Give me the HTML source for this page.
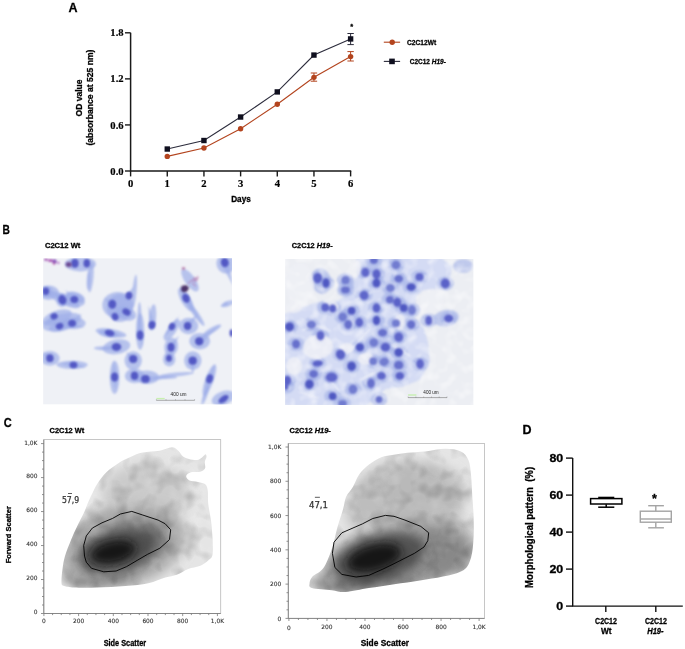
<!DOCTYPE html>
<html><head><meta charset="utf-8"><title>Figure</title>
<style>html,body{margin:0;padding:0;background:#fff;} svg{display:block;filter:blur(0.35px);}</style></head>
<body><svg width="685" height="649" viewBox="0 0 685 649">
<rect width="685" height="649" fill="#fff"/>
<text x="68.6" y="12.4" font-family="'Liberation Sans', Arial, sans-serif" font-weight="bold" stroke="#000" stroke-width="0.28" font-size="12.5">A</text>
<path d="M130.6 32.8 V171.0 H351.22" fill="none" stroke="#1a1a1a" stroke-width="1.5"/>
<line x1="125" y1="171.00" x2="130.6" y2="171.00" stroke="#1a1a1a" stroke-width="1.4"/>
<text x="123.6" y="174.60" text-anchor="end" font-family="'Liberation Serif', 'Times New Roman', serif" font-weight="bold" font-size="10.6" stroke="#000" stroke-width="0.2">0.0</text>
<line x1="125" y1="124.93" x2="130.6" y2="124.93" stroke="#1a1a1a" stroke-width="1.4"/>
<text x="123.6" y="128.53" text-anchor="end" font-family="'Liberation Serif', 'Times New Roman', serif" font-weight="bold" font-size="10.6" stroke="#000" stroke-width="0.2">0.6</text>
<line x1="125" y1="78.87" x2="130.6" y2="78.87" stroke="#1a1a1a" stroke-width="1.4"/>
<text x="123.6" y="82.47" text-anchor="end" font-family="'Liberation Serif', 'Times New Roman', serif" font-weight="bold" font-size="10.6" stroke="#000" stroke-width="0.2">1.2</text>
<line x1="125" y1="32.80" x2="130.6" y2="32.80" stroke="#1a1a1a" stroke-width="1.4"/>
<text x="123.6" y="36.40" text-anchor="end" font-family="'Liberation Serif', 'Times New Roman', serif" font-weight="bold" font-size="10.6" stroke="#000" stroke-width="0.2">1.8</text>
<line x1="130.60" y1="171.0" x2="130.60" y2="176.4" stroke="#1a1a1a" stroke-width="1.4"/>
<text x="130.60" y="187.3" text-anchor="middle" font-family="'Liberation Serif', 'Times New Roman', serif" font-weight="bold" font-size="10.6" stroke="#000" stroke-width="0.2">0</text>
<line x1="167.27" y1="171.0" x2="167.27" y2="176.4" stroke="#1a1a1a" stroke-width="1.4"/>
<text x="167.27" y="187.3" text-anchor="middle" font-family="'Liberation Serif', 'Times New Roman', serif" font-weight="bold" font-size="10.6" stroke="#000" stroke-width="0.2">1</text>
<line x1="203.94" y1="171.0" x2="203.94" y2="176.4" stroke="#1a1a1a" stroke-width="1.4"/>
<text x="203.94" y="187.3" text-anchor="middle" font-family="'Liberation Serif', 'Times New Roman', serif" font-weight="bold" font-size="10.6" stroke="#000" stroke-width="0.2">2</text>
<line x1="240.61" y1="171.0" x2="240.61" y2="176.4" stroke="#1a1a1a" stroke-width="1.4"/>
<text x="240.61" y="187.3" text-anchor="middle" font-family="'Liberation Serif', 'Times New Roman', serif" font-weight="bold" font-size="10.6" stroke="#000" stroke-width="0.2">3</text>
<line x1="277.28" y1="171.0" x2="277.28" y2="176.4" stroke="#1a1a1a" stroke-width="1.4"/>
<text x="277.28" y="187.3" text-anchor="middle" font-family="'Liberation Serif', 'Times New Roman', serif" font-weight="bold" font-size="10.6" stroke="#000" stroke-width="0.2">4</text>
<line x1="313.95" y1="171.0" x2="313.95" y2="176.4" stroke="#1a1a1a" stroke-width="1.4"/>
<text x="313.95" y="187.3" text-anchor="middle" font-family="'Liberation Serif', 'Times New Roman', serif" font-weight="bold" font-size="10.6" stroke="#000" stroke-width="0.2">5</text>
<line x1="350.62" y1="171.0" x2="350.62" y2="176.4" stroke="#1a1a1a" stroke-width="1.4"/>
<text x="350.62" y="187.3" text-anchor="middle" font-family="'Liberation Serif', 'Times New Roman', serif" font-weight="bold" font-size="10.6" stroke="#000" stroke-width="0.2">6</text>
<text x="241" y="202" text-anchor="middle" font-family="'Liberation Sans', Arial, sans-serif" font-weight="bold" stroke="#000" stroke-width="0.28" font-size="8.2">Days</text>
<text transform="translate(81.6 98) rotate(-90)" text-anchor="middle" font-family="'Liberation Sans', Arial, sans-serif" font-weight="bold" stroke="#000" stroke-width="0.28" font-size="8.4" textLength="37" lengthAdjust="spacingAndGlyphs">OD value</text>
<text transform="translate(93.2 97.6) rotate(-90)" text-anchor="middle" font-family="'Liberation Sans', Arial, sans-serif" font-weight="bold" stroke="#000" stroke-width="0.28" font-size="8.4" textLength="96" lengthAdjust="spacingAndGlyphs">(absorbance at 525 nm)</text>
<polyline points="167.27,156.41 203.94,147.97 240.61,128.77 277.28,104.20 313.95,77.33 350.62,56.60" fill="none" stroke="#b3441e" stroke-width="1.1"/>
<polyline points="167.27,149.04 203.94,140.52 240.61,117.03 277.28,91.92 313.95,55.07 350.62,38.94" fill="none" stroke="#2c2c3c" stroke-width="1.1"/>
<path d="M350.62 33.50 V44.60 M347.42 33.50 H353.82 M347.42 44.60 H353.82" stroke="#2c2c3c" stroke-width="1" fill="none"/>
<path d="M350.62 51.60 V61.00 M347.42 51.60 H353.82 M347.42 61.00 H353.82" stroke="#b3441e" stroke-width="1" fill="none"/>
<path d="M313.95 73.00 V81.20 M310.75 73.00 H317.15 M310.75 81.20 H317.15" stroke="#b3441e" stroke-width="1" fill="none"/>
<circle cx="167.27" cy="156.41" r="2.7" fill="#b3441e"/>
<circle cx="203.94" cy="147.97" r="2.7" fill="#b3441e"/>
<circle cx="240.61" cy="128.77" r="2.7" fill="#b3441e"/>
<circle cx="277.28" cy="104.20" r="2.7" fill="#b3441e"/>
<circle cx="313.95" cy="77.33" r="2.7" fill="#b3441e"/>
<circle cx="350.62" cy="56.60" r="2.7" fill="#b3441e"/>
<rect x="164.57" y="146.34" width="5.4" height="5.4" fill="#10101f"/>
<rect x="201.24" y="137.82" width="5.4" height="5.4" fill="#10101f"/>
<rect x="237.91" y="114.33" width="5.4" height="5.4" fill="#10101f"/>
<rect x="274.58" y="89.22" width="5.4" height="5.4" fill="#10101f"/>
<rect x="311.25" y="52.37" width="5.4" height="5.4" fill="#10101f"/>
<rect x="347.92" y="36.24" width="5.4" height="5.4" fill="#10101f"/>
<text x="351.7" y="29.2" text-anchor="middle" font-family="'Liberation Sans', Arial, sans-serif" font-weight="bold" stroke="#000" stroke-width="0.28" font-size="7.5">*</text>
<line x1="383.8" y1="42.2" x2="400.1" y2="42.2" stroke="#b3441e" stroke-width="1.1"/>
<circle cx="392.2" cy="42.2" r="2.7" fill="#b3441e"/>
<text x="407.1" y="44.8" font-family="'Liberation Sans', Arial, sans-serif" font-weight="bold" stroke="#000" stroke-width="0.28" font-size="7" textLength="29" lengthAdjust="spacingAndGlyphs">C2C12Wt</text>
<line x1="383.8" y1="61.4" x2="400.1" y2="61.4" stroke="#2c2c3c" stroke-width="1.1"/>
<rect x="389.2" y="58.6" width="5.6" height="5.6" fill="#10101f"/>
<text x="409.8" y="64.0" font-family="'Liberation Sans', Arial, sans-serif" font-weight="bold" stroke="#000" stroke-width="0.28" font-size="7" textLength="36" lengthAdjust="spacingAndGlyphs">C2C12 <tspan font-style="italic">H19</tspan>-</text>
<defs><filter id="cb2" x="-10%" y="-10%" width="120%" height="120%"><feGaussianBlur stdDeviation="1.3"/></filter><filter id="cb1" x="-10%" y="-10%" width="120%" height="120%"><feGaussianBlur stdDeviation="0.8"/></filter><filter id="celltex" x="0" y="0" width="100%" height="100%"><feTurbulence type="fractalNoise" baseFrequency="0.11" numOctaves="2" seed="5"/><feGaussianBlur stdDeviation="0.8"/><feColorMatrix type="matrix" values="0 0 0 0 1  0 0 0 0 1  0 0 0 0 1  2.4 0 0 0 -1.05"/></filter></defs>
<text x="2.5" y="233.8" font-family="'Liberation Sans', Arial, sans-serif" font-weight="bold" stroke="#000" stroke-width="0.28" font-size="12.8" textLength="7.4" lengthAdjust="spacingAndGlyphs">B</text>
<text x="44.9" y="247.7" font-family="'Liberation Sans', Arial, sans-serif" font-weight="bold" stroke="#000" stroke-width="0.28" font-size="7.8" textLength="35.5" lengthAdjust="spacingAndGlyphs">C2C12 Wt</text>
<text x="291.8" y="247.9" font-family="'Liberation Sans', Arial, sans-serif" font-weight="bold" stroke="#000" stroke-width="0.28" font-size="7.8" textLength="40.8" lengthAdjust="spacingAndGlyphs">C2C12 <tspan font-style="italic">H19</tspan>-</text>
<clipPath id="ci1"><rect x="43.1" y="258.2" width="188.9" height="146.40000000000003"/></clipPath>
<g clip-path="url(#ci1)">
<rect x="43.1" y="258.2" width="188.9" height="146.40000000000003" fill="#eff1f6"/>
<g filter="url(#cb2)">
<ellipse cx="80.4" cy="264.1" rx="15.6" ry="7.3" transform="rotate(0 80.4 264.1)" fill="#9eaee8" opacity="0.7"/>
<ellipse cx="90.7" cy="277.4" rx="2.8" ry="15.0" transform="rotate(5 90.7 277.4)" fill="#9eaee8" opacity="0.7"/>
<ellipse cx="48.5" cy="292.7" rx="10.4" ry="7.3" transform="rotate(0 48.5 292.7)" fill="#9eaee8" opacity="0.7"/>
<ellipse cx="63.8" cy="299.6" rx="17.3" ry="5.0" transform="rotate(25 63.8 299.6)" fill="#9eaee8" opacity="0.7"/>
<ellipse cx="74.9" cy="299.6" rx="10.4" ry="6.7" transform="rotate(20 74.9 299.6)" fill="#9eaee8" opacity="0.7"/>
<ellipse cx="56.9" cy="317.6" rx="15.6" ry="6.7" transform="rotate(-20 56.9 317.6)" fill="#9eaee8" opacity="0.7"/>
<ellipse cx="62.4" cy="326.0" rx="13.9" ry="5.0" transform="rotate(-15 62.4 326.0)" fill="#9eaee8" opacity="0.7"/>
<ellipse cx="73.5" cy="323.2" rx="12.1" ry="6.0" transform="rotate(0 73.5 323.2)" fill="#9eaee8" opacity="0.7"/>
<ellipse cx="117.9" cy="305.2" rx="15.6" ry="13.3" transform="rotate(0 117.9 305.2)" fill="#9eaee8" opacity="0.7"/>
<ellipse cx="126.2" cy="313.5" rx="10.4" ry="6.7" transform="rotate(20 126.2 313.5)" fill="#9eaee8" opacity="0.7"/>
<ellipse cx="111.0" cy="332.9" rx="15.6" ry="4.0" transform="rotate(10 111.0 332.9)" fill="#9eaee8" opacity="0.7"/>
<ellipse cx="140.1" cy="331.5" rx="4.2" ry="18.3" transform="rotate(0 140.1 331.5)" fill="#9eaee8" opacity="0.7"/>
<ellipse cx="152.6" cy="317.6" rx="3.5" ry="13.3" transform="rotate(5 152.6 317.6)" fill="#9eaee8" opacity="0.7"/>
<ellipse cx="116.5" cy="346.8" rx="13.9" ry="7.3" transform="rotate(-10 116.5 346.8)" fill="#9eaee8" opacity="0.7"/>
<ellipse cx="102.6" cy="348.2" rx="8.7" ry="2.0" transform="rotate(0 102.6 348.2)" fill="#9eaee8" opacity="0.7"/>
<ellipse cx="133.2" cy="360.6" rx="8.7" ry="9.3" transform="rotate(0 133.2 360.6)" fill="#9eaee8" opacity="0.7"/>
<ellipse cx="114.6" cy="377.3" rx="4.9" ry="16.6" transform="rotate(0 114.6 377.3)" fill="#9eaee8" opacity="0.7"/>
<ellipse cx="134.5" cy="375.9" rx="9.7" ry="7.3" transform="rotate(0 134.5 375.9)" fill="#9eaee8" opacity="0.7"/>
<ellipse cx="147.0" cy="377.3" rx="12.1" ry="6.7" transform="rotate(0 147.0 377.3)" fill="#9eaee8" opacity="0.7"/>
<ellipse cx="165.1" cy="377.3" rx="12.1" ry="1.7" transform="rotate(0 165.1 377.3)" fill="#9eaee8" opacity="0.7"/>
<ellipse cx="49.9" cy="358.4" rx="9.7" ry="7.3" transform="rotate(0 49.9 358.4)" fill="#9eaee8" opacity="0.7"/>
<ellipse cx="72.1" cy="364.8" rx="15.6" ry="4.0" transform="rotate(0 72.1 364.8)" fill="#9eaee8" opacity="0.7"/>
<ellipse cx="172.0" cy="330.1" rx="4.2" ry="12.6" transform="rotate(35 172.0 330.1)" fill="#9eaee8" opacity="0.7"/>
<ellipse cx="188.6" cy="326.0" rx="9.7" ry="8.3" transform="rotate(0 188.6 326.0)" fill="#9eaee8" opacity="0.7"/>
<ellipse cx="185.9" cy="299.6" rx="4.9" ry="13.3" transform="rotate(-30 185.9 299.6)" fill="#9eaee8" opacity="0.7"/>
<ellipse cx="190.0" cy="280.2" rx="5.2" ry="13.3" transform="rotate(-35 190.0 280.2)" fill="#9eaee8" opacity="0.7"/>
<ellipse cx="195.6" cy="313.5" rx="2.8" ry="15.0" transform="rotate(-35 195.6 313.5)" fill="#9eaee8" opacity="0.7"/>
<ellipse cx="171.2" cy="346.8" rx="6.9" ry="9.3" transform="rotate(10 171.2 346.8)" fill="#9eaee8" opacity="0.7"/>
<ellipse cx="169.2" cy="359.2" rx="6.2" ry="7.3" transform="rotate(0 169.2 359.2)" fill="#9eaee8" opacity="0.7"/>
<ellipse cx="199.7" cy="341.2" rx="10.4" ry="8.3" transform="rotate(0 199.7 341.2)" fill="#9eaee8" opacity="0.7"/>
<ellipse cx="192.8" cy="360.6" rx="8.7" ry="9.3" transform="rotate(0 192.8 360.6)" fill="#9eaee8" opacity="0.7"/>
<ellipse cx="209.4" cy="380.1" rx="4.2" ry="16.6" transform="rotate(20 209.4 380.1)" fill="#9eaee8" opacity="0.7"/>
<ellipse cx="205.3" cy="395.3" rx="2.1" ry="10.0" transform="rotate(20 205.3 395.3)" fill="#9eaee8" opacity="0.7"/>
<ellipse cx="226.1" cy="263.5" rx="9.7" ry="10.0" transform="rotate(0 226.1 263.5)" fill="#9eaee8" opacity="0.7"/>
<ellipse cx="227.5" cy="303.8" rx="6.9" ry="2.7" transform="rotate(-20 227.5 303.8)" fill="#9eaee8" opacity="0.7"/>
<ellipse cx="223.3" cy="398.1" rx="12.1" ry="6.7" transform="rotate(-20 223.3 398.1)" fill="#9eaee8" opacity="0.7"/>
<ellipse cx="134.5" cy="291.3" rx="2.1" ry="16.6" transform="rotate(5 134.5 291.3)" fill="#9eaee8" opacity="0.7"/>
<ellipse cx="176.1" cy="374.5" rx="17.3" ry="2.0" transform="rotate(-5 176.1 374.5)" fill="#9eaee8" opacity="0.7"/>
<ellipse cx="212.2" cy="330.1" rx="10.4" ry="2.7" transform="rotate(-30 212.2 330.1)" fill="#9eaee8" opacity="0.7"/>
<path d="M64.5 297.0 L51.3 291.3 L60.3 302.6 Q64.6 301.5 64.5 297.0 Z" fill="#9eaee8" opacity="0.7"/>
<path d="M60.8 302.4 L73.5 306.5 L64.0 297.2 Q60.3 298.6 60.8 302.4 Z" fill="#9eaee8" opacity="0.7"/>
<path d="M76.1 297.7 L65.2 289.9 L72.5 301.1 Q75.7 300.8 76.1 297.7 Z" fill="#9eaee8" opacity="0.7"/>
<path d="M73.5 302.3 L84.6 302.4 L75.1 296.5 Q72.0 298.7 73.5 302.3 Z" fill="#9eaee8" opacity="0.7"/>
<path d="M53.2 317.1 L43.0 323.2 L54.8 322.9 Q56.3 319.3 53.2 317.1 Z" fill="#9eaee8" opacity="0.7"/>
<path d="M65.4 327.4 L84.6 327.3 L66.6 320.6 Q63.2 323.5 65.4 327.4 Z" fill="#9eaee8" opacity="0.7"/>
<path d="M73.7 324.8 L81.8 313.5 L70.3 321.2 Q70.6 324.4 73.7 324.8 Z" fill="#9eaee8" opacity="0.7"/>
<path d="M131.2 296.6 L134.5 285.7 L126.8 294.2 Q128.0 297.1 131.2 296.6 Z" fill="#9eaee8" opacity="0.7"/>
<path d="M110.2 330.3 L98.5 330.7 L109.0 335.7 Q111.8 333.5 110.2 330.3 Z" fill="#9eaee8" opacity="0.7"/>
<path d="M109.1 335.7 L123.4 335.7 L110.1 330.3 Q107.4 332.6 109.1 335.7 Z" fill="#9eaee8" opacity="0.7"/>
<path d="M142.9 335.0 L138.7 313.5 L137.3 335.4 Q140.2 337.4 142.9 335.0 Z" fill="#9eaee8" opacity="0.7"/>
<path d="M137.7 335.8 L142.9 346.8 L142.5 334.6 Q139.6 333.3 137.7 335.8 Z" fill="#9eaee8" opacity="0.7"/>
<path d="M154.8 324.5 L148.4 305.2 L149.2 325.5 Q152.4 327.2 154.8 324.5 Z" fill="#9eaee8" opacity="0.7"/>
<path d="M116.0 343.5 L98.5 349.5 L117.0 350.5 Q119.3 346.6 116.0 343.5 Z" fill="#9eaee8" opacity="0.7"/>
<path d="M117.4 376.7 L113.7 360.6 L111.8 377.1 Q114.7 379.1 117.4 376.7 Z" fill="#9eaee8" opacity="0.7"/>
<path d="M111.8 377.1 L115.7 391.2 L117.4 376.7 Q114.4 374.7 111.8 377.1 Z" fill="#9eaee8" opacity="0.7"/>
<path d="M145.6 381.9 L173.4 377.3 L145.2 375.9 Q143.0 379.0 145.6 381.9 Z" fill="#9eaee8" opacity="0.7"/>
<path d="M73.9 362.0 L59.6 363.0 L73.1 368.0 Q75.9 365.3 73.9 362.0 Z" fill="#9eaee8" opacity="0.7"/>
<path d="M72.9 367.9 L86.0 367.6 L74.1 362.1 Q71.2 364.5 72.9 367.9 Z" fill="#9eaee8" opacity="0.7"/>
<path d="M170.1 324.9 L162.3 338.4 L173.9 328.1 Q173.3 324.9 170.1 324.9 Z" fill="#9eaee8" opacity="0.7"/>
<path d="M174.1 327.9 L178.9 316.3 L169.9 325.1 Q170.9 328.2 174.1 327.9 Z" fill="#9eaee8" opacity="0.7"/>
<path d="M189.9 328.0 L198.3 313.5 L185.3 324.0 Q186.0 327.8 189.9 328.0 Z" fill="#9eaee8" opacity="0.7"/>
<path d="M188.7 297.0 L180.3 285.7 L183.3 299.4 Q187.0 300.4 188.7 297.0 Z" fill="#9eaee8" opacity="0.7"/>
<path d="M183.3 299.9 L202.5 324.6 L188.7 296.5 Q184.6 296.0 183.3 299.9 Z" fill="#9eaee8" opacity="0.7"/>
<path d="M173.5 348.9 L178.9 335.7 L168.5 345.5 Q169.6 349.2 173.5 348.9 Z" fill="#9eaee8" opacity="0.7"/>
<path d="M201.4 344.1 L220.5 324.6 L197.0 338.5 Q197.0 343.0 201.4 344.1 Z" fill="#9eaee8" opacity="0.7"/>
<path d="M189.2 360.7 L192.8 374.5 L196.2 360.7 Q192.7 357.9 189.2 360.7 Z" fill="#9eaee8" opacity="0.7"/>
<path d="M206.7 377.9 L202.5 402.2 L212.5 379.7 Q210.3 376.5 206.7 377.9 Z" fill="#9eaee8" opacity="0.7"/>
<path d="M212.2 379.7 L215.0 363.4 L207.0 377.9 Q208.9 380.9 212.2 379.7 Z" fill="#9eaee8" opacity="0.7"/>
<path d="M221.0 263.8 L233.0 285.7 L228.6 261.2 Q223.7 259.5 221.0 263.8 Z" fill="#9eaee8" opacity="0.7"/>
<path d="M226.2 301.7 L220.5 306.5 L227.8 305.3 Q228.5 302.8 226.2 301.7 Z" fill="#9eaee8" opacity="0.7"/>
<path d="M135.3 356.8 L126.0 352.0 L131.1 361.2 Q134.9 360.7 135.3 356.8 Z" fill="#9eaee8" opacity="0.7"/>
<path d="M51.9 356.0 L43.0 352.0 L47.9 360.4 Q51.7 359.8 51.9 356.0 Z" fill="#9eaee8" opacity="0.7"/>
<path d="M44.2 293.9 L55.0 297.0 L47.4 288.7 Q43.8 290.0 44.2 293.9 Z" fill="#9eaee8" opacity="0.7"/>
<path d="M114.1 301.8 L104.0 298.0 L110.5 306.6 Q114.2 305.6 114.1 301.8 Z" fill="#9eaee8" opacity="0.7"/>
<path d="M124.5 314.4 L134.0 318.0 L128.3 309.6 Q124.5 310.5 124.5 314.4 Z" fill="#9eaee8" opacity="0.7"/>
<ellipse cx="120" cy="308" rx="13" ry="14" transform="rotate(0 120 308)" fill="#9eaee8" opacity="0.7"/>
<ellipse cx="62" cy="322" rx="20" ry="8" transform="rotate(-15 62 322)" fill="#9eaee8" opacity="0.7"/>
<ellipse cx="75" cy="297" rx="10" ry="5" transform="rotate(15 75 297)" fill="#9eaee8" opacity="0.7"/>
<ellipse cx="62" cy="300" rx="6" ry="7" transform="rotate(0 62 300)" fill="#9eaee8" opacity="0.7"/>
<ellipse cx="88.5" cy="280" rx="1.8" ry="10" transform="rotate(3 88.5 280)" fill="#9eaee8" opacity="0.7"/>
<ellipse cx="47" cy="292" rx="6" ry="6" transform="rotate(0 47 292)" fill="#9eaee8" opacity="0.7"/>
<ellipse cx="108" cy="334" rx="10" ry="3.5" transform="rotate(10 108 334)" fill="#9eaee8" opacity="0.7"/>
<ellipse cx="139.5" cy="318" rx="2" ry="16" transform="rotate(0 139.5 318)" fill="#9eaee8" opacity="0.7"/>
</g>
<g filter="url(#cb1)">
<ellipse cx="74.9" cy="263.2" rx="3.7" ry="4.5" transform="rotate(0 74.9 263.2)" fill="#5259c4"/>
<ellipse cx="86.8" cy="263.2" rx="3.3" ry="4.3" transform="rotate(0 86.8 263.2)" fill="#5259c4"/>
<ellipse cx="45.8" cy="291.3" rx="3.3" ry="3.7" transform="rotate(0 45.8 291.3)" fill="#5259c4"/>
<ellipse cx="62.4" cy="299.8" rx="3.9" ry="4.8" transform="rotate(-20 62.4 299.8)" fill="#5259c4"/>
<ellipse cx="74.3" cy="299.4" rx="3.9" ry="3.5" transform="rotate(0 74.3 299.4)" fill="#5259c4"/>
<ellipse cx="54.1" cy="316.3" rx="3.7" ry="3.2" transform="rotate(-20 54.1 316.3)" fill="#5259c4"/>
<ellipse cx="59.6" cy="326.2" rx="3.9" ry="3.2" transform="rotate(-20 59.6 326.2)" fill="#5259c4"/>
<ellipse cx="72.1" cy="323.2" rx="3.9" ry="3.5" transform="rotate(0 72.1 323.2)" fill="#5259c4"/>
<ellipse cx="112.3" cy="304.2" rx="3.9" ry="4.5" transform="rotate(0 112.3 304.2)" fill="#5259c4"/>
<ellipse cx="129.0" cy="295.6" rx="3.5" ry="3.9" transform="rotate(0 129.0 295.6)" fill="#5259c4"/>
<ellipse cx="126.4" cy="312.0" rx="4.3" ry="3.2" transform="rotate(30 126.4 312.0)" fill="#5259c4"/>
<ellipse cx="115.1" cy="316.6" rx="3.3" ry="3.9" transform="rotate(-20 115.1 316.6)" fill="#5259c4"/>
<ellipse cx="109.6" cy="333.0" rx="5.0" ry="3.0" transform="rotate(15 109.6 333.0)" fill="#5259c4"/>
<ellipse cx="140.1" cy="335.2" rx="3.3" ry="4.7" transform="rotate(0 140.1 335.2)" fill="#5259c4"/>
<ellipse cx="152.0" cy="325.0" rx="3.5" ry="4.1" transform="rotate(10 152.0 325.0)" fill="#5259c4"/>
<ellipse cx="116.5" cy="347.0" rx="4.8" ry="3.9" transform="rotate(0 116.5 347.0)" fill="#5259c4"/>
<ellipse cx="133.2" cy="359.0" rx="4.1" ry="4.1" transform="rotate(0 133.2 359.0)" fill="#5259c4"/>
<ellipse cx="114.6" cy="376.9" rx="3.5" ry="4.5" transform="rotate(0 114.6 376.9)" fill="#5259c4"/>
<ellipse cx="134.5" cy="375.8" rx="3.7" ry="4.3" transform="rotate(0 134.5 375.8)" fill="#5259c4"/>
<ellipse cx="145.4" cy="378.9" rx="4.3" ry="3.9" transform="rotate(0 145.4 378.9)" fill="#5259c4"/>
<ellipse cx="49.9" cy="358.2" rx="3.7" ry="3.9" transform="rotate(0 49.9 358.2)" fill="#5259c4"/>
<ellipse cx="73.5" cy="365.0" rx="3.9" ry="3.2" transform="rotate(0 73.5 365.0)" fill="#5259c4"/>
<ellipse cx="172.0" cy="326.5" rx="3.2" ry="3.7" transform="rotate(20 172.0 326.5)" fill="#5259c4"/>
<ellipse cx="187.6" cy="326.0" rx="3.7" ry="4.1" transform="rotate(0 187.6 326.0)" fill="#5259c4"/>
<ellipse cx="186.0" cy="298.2" rx="3.5" ry="4.7" transform="rotate(-25 186.0 298.2)" fill="#5259c4"/>
<ellipse cx="171.0" cy="347.2" rx="3.5" ry="4.5" transform="rotate(0 171.0 347.2)" fill="#5259c4"/>
<ellipse cx="169.0" cy="358.2" rx="3.0" ry="3.5" transform="rotate(0 169.0 358.2)" fill="#5259c4"/>
<ellipse cx="199.2" cy="341.3" rx="4.1" ry="4.1" transform="rotate(0 199.2 341.3)" fill="#5259c4"/>
<ellipse cx="192.7" cy="360.7" rx="4.1" ry="4.1" transform="rotate(0 192.7 360.7)" fill="#5259c4"/>
<ellipse cx="209.6" cy="378.8" rx="3.2" ry="4.5" transform="rotate(20 209.6 378.8)" fill="#5259c4"/>
<ellipse cx="223.5" cy="399.2" rx="5.8" ry="3.0" transform="rotate(-35 223.5 399.2)" fill="#5259c4"/>
<ellipse cx="224.8" cy="262.5" rx="3.9" ry="4.7" transform="rotate(-15 224.8 262.5)" fill="#5259c4"/>
<ellipse cx="231.5" cy="333.0" rx="1.9" ry="3.7" transform="rotate(0 231.5 333.0)" fill="#5259c4"/>
</g>
</g>
<clipPath id="ci2"><rect x="285.1" y="258.9" width="188.5" height="146.10000000000002"/></clipPath>
<g clip-path="url(#ci2)">
<rect x="285.1" y="258.9" width="188.5" height="146.10000000000002" fill="#eceef3"/>
<g filter="url(#cb2)">
<polygon points="356,257 440,257 452,266 450,280 440,289 424,290 416,296 414,318 424,328 428,342 430,362 420,380 402,387 386,389 374,398 366,406 284,406 284,314 300,308 318,302 338,301 350,293 356,275" fill="#d3daf3" opacity="0.95"/>
<ellipse cx="317.7" cy="278" rx="8.5" ry="7" transform="rotate(0 317.7 278)" fill="#a2b1e8" opacity="0.6"/>
<ellipse cx="326" cy="283" rx="8.5" ry="7" transform="rotate(0 326 283)" fill="#a2b1e8" opacity="0.6"/>
<ellipse cx="345.5" cy="280.2" rx="8.5" ry="7" transform="rotate(0 345.5 280.2)" fill="#a2b1e8" opacity="0.6"/>
<ellipse cx="345.5" cy="289.9" rx="8.5" ry="7" transform="rotate(0 345.5 289.9)" fill="#a2b1e8" opacity="0.6"/>
<ellipse cx="365.4" cy="272.4" rx="8.5" ry="7" transform="rotate(0 365.4 272.4)" fill="#a2b1e8" opacity="0.6"/>
<ellipse cx="376.5" cy="274.1" rx="8.5" ry="7" transform="rotate(0 376.5 274.1)" fill="#a2b1e8" opacity="0.6"/>
<ellipse cx="376.5" cy="283" rx="8.5" ry="7" transform="rotate(0 376.5 283)" fill="#a2b1e8" opacity="0.6"/>
<ellipse cx="396" cy="265" rx="8.5" ry="7" transform="rotate(0 396 265)" fill="#a2b1e8" opacity="0.6"/>
<ellipse cx="398.7" cy="278.8" rx="8.5" ry="7" transform="rotate(0 398.7 278.8)" fill="#a2b1e8" opacity="0.6"/>
<ellipse cx="419.5" cy="276.9" rx="8.5" ry="7" transform="rotate(0 419.5 276.9)" fill="#a2b1e8" opacity="0.6"/>
<ellipse cx="445.3" cy="283.5" rx="8.5" ry="7" transform="rotate(0 445.3 283.5)" fill="#a2b1e8" opacity="0.6"/>
<ellipse cx="411.2" cy="287.1" rx="8.5" ry="7" transform="rotate(0 411.2 287.1)" fill="#a2b1e8" opacity="0.6"/>
<ellipse cx="390.4" cy="288" rx="8.5" ry="7" transform="rotate(0 390.4 288)" fill="#a2b1e8" opacity="0.6"/>
<ellipse cx="373.8" cy="260.5" rx="8.5" ry="7" transform="rotate(0 373.8 260.5)" fill="#a2b1e8" opacity="0.6"/>
<ellipse cx="364.1" cy="295.4" rx="8.5" ry="7" transform="rotate(0 364.1 295.4)" fill="#a2b1e8" opacity="0.6"/>
<ellipse cx="397.3" cy="302.4" rx="8.5" ry="7" transform="rotate(0 397.3 302.4)" fill="#a2b1e8" opacity="0.6"/>
<ellipse cx="403.7" cy="307.9" rx="8.5" ry="7" transform="rotate(0 403.7 307.9)" fill="#a2b1e8" opacity="0.6"/>
<ellipse cx="412" cy="310.1" rx="8.5" ry="7" transform="rotate(0 412 310.1)" fill="#a2b1e8" opacity="0.6"/>
<ellipse cx="389.9" cy="299.6" rx="8.5" ry="7" transform="rotate(0 389.9 299.6)" fill="#a2b1e8" opacity="0.6"/>
<ellipse cx="325.2" cy="307.4" rx="8.5" ry="7" transform="rotate(0 325.2 307.4)" fill="#a2b1e8" opacity="0.6"/>
<ellipse cx="332.7" cy="308.5" rx="8.5" ry="7" transform="rotate(0 332.7 308.5)" fill="#a2b1e8" opacity="0.6"/>
<ellipse cx="351.6" cy="310.7" rx="8.5" ry="7" transform="rotate(0 351.6 310.7)" fill="#a2b1e8" opacity="0.6"/>
<ellipse cx="342.7" cy="316.8" rx="8.5" ry="7" transform="rotate(0 342.7 316.8)" fill="#a2b1e8" opacity="0.6"/>
<ellipse cx="348.2" cy="324.6" rx="8.5" ry="7" transform="rotate(0 348.2 324.6)" fill="#a2b1e8" opacity="0.6"/>
<ellipse cx="359.3" cy="322.4" rx="8.5" ry="7" transform="rotate(0 359.3 322.4)" fill="#a2b1e8" opacity="0.6"/>
<ellipse cx="376.5" cy="307.9" rx="8.5" ry="7" transform="rotate(0 376.5 307.9)" fill="#a2b1e8" opacity="0.6"/>
<ellipse cx="376.5" cy="320.4" rx="8.5" ry="7" transform="rotate(0 376.5 320.4)" fill="#a2b1e8" opacity="0.6"/>
<ellipse cx="396" cy="323.2" rx="8.5" ry="7" transform="rotate(0 396 323.2)" fill="#a2b1e8" opacity="0.6"/>
<ellipse cx="411.2" cy="324.6" rx="8.5" ry="7" transform="rotate(0 411.2 324.6)" fill="#a2b1e8" opacity="0.6"/>
<ellipse cx="428.7" cy="320.4" rx="8.5" ry="7" transform="rotate(0 428.7 320.4)" fill="#a2b1e8" opacity="0.6"/>
<ellipse cx="448.7" cy="318.5" rx="8.5" ry="7" transform="rotate(0 448.7 318.5)" fill="#a2b1e8" opacity="0.6"/>
<ellipse cx="289.5" cy="326.8" rx="8.5" ry="7" transform="rotate(0 289.5 326.8)" fill="#a2b1e8" opacity="0.6"/>
<ellipse cx="311.4" cy="324.6" rx="8.5" ry="7" transform="rotate(0 311.4 324.6)" fill="#a2b1e8" opacity="0.6"/>
<ellipse cx="296.1" cy="344" rx="8.5" ry="7" transform="rotate(0 296.1 344)" fill="#a2b1e8" opacity="0.6"/>
<ellipse cx="320.5" cy="335.7" rx="8.5" ry="7" transform="rotate(0 320.5 335.7)" fill="#a2b1e8" opacity="0.6"/>
<ellipse cx="340.5" cy="354.5" rx="8.5" ry="7" transform="rotate(0 340.5 354.5)" fill="#a2b1e8" opacity="0.6"/>
<ellipse cx="359.9" cy="347.3" rx="8.5" ry="7" transform="rotate(0 359.9 347.3)" fill="#a2b1e8" opacity="0.6"/>
<ellipse cx="373.8" cy="342.6" rx="8.5" ry="7" transform="rotate(0 373.8 342.6)" fill="#a2b1e8" opacity="0.6"/>
<ellipse cx="382.6" cy="332.8" rx="8.5" ry="7" transform="rotate(0 382.6 332.8)" fill="#a2b1e8" opacity="0.6"/>
<ellipse cx="398.7" cy="337.1" rx="8.5" ry="7" transform="rotate(0 398.7 337.1)" fill="#a2b1e8" opacity="0.6"/>
<ellipse cx="385.4" cy="347.2" rx="8.5" ry="7" transform="rotate(0 385.4 347.2)" fill="#a2b1e8" opacity="0.6"/>
<ellipse cx="398.7" cy="352.3" rx="8.5" ry="7" transform="rotate(0 398.7 352.3)" fill="#a2b1e8" opacity="0.6"/>
<ellipse cx="384.2" cy="361.8" rx="8.5" ry="7" transform="rotate(0 384.2 361.8)" fill="#a2b1e8" opacity="0.6"/>
<ellipse cx="398.7" cy="365.2" rx="8.5" ry="7" transform="rotate(0 398.7 365.2)" fill="#a2b1e8" opacity="0.6"/>
<ellipse cx="420.1" cy="364" rx="8.5" ry="7" transform="rotate(0 420.1 364)" fill="#a2b1e8" opacity="0.6"/>
<ellipse cx="317.7" cy="363.4" rx="8.5" ry="7" transform="rotate(0 317.7 363.4)" fill="#a2b1e8" opacity="0.6"/>
<ellipse cx="351.6" cy="366.2" rx="8.5" ry="7" transform="rotate(0 351.6 366.2)" fill="#a2b1e8" opacity="0.6"/>
<ellipse cx="373.2" cy="361.2" rx="8.5" ry="7" transform="rotate(0 373.2 361.2)" fill="#a2b1e8" opacity="0.6"/>
<ellipse cx="313.6" cy="374" rx="8.5" ry="7" transform="rotate(0 313.6 374)" fill="#a2b1e8" opacity="0.6"/>
<ellipse cx="331.5" cy="377.3" rx="8.5" ry="7" transform="rotate(0 331.5 377.3)" fill="#a2b1e8" opacity="0.6"/>
<ellipse cx="287.2" cy="380.5" rx="8.5" ry="7" transform="rotate(0 287.2 380.5)" fill="#a2b1e8" opacity="0.6"/>
<ellipse cx="309.4" cy="384.2" rx="8.5" ry="7" transform="rotate(0 309.4 384.2)" fill="#a2b1e8" opacity="0.6"/>
<ellipse cx="353" cy="389.3" rx="8.5" ry="7" transform="rotate(0 353 389.3)" fill="#a2b1e8" opacity="0.6"/>
<ellipse cx="371" cy="383.4" rx="8.5" ry="7" transform="rotate(0 371 383.4)" fill="#a2b1e8" opacity="0.6"/>
<ellipse cx="381.5" cy="375.9" rx="8.5" ry="7" transform="rotate(0 381.5 375.9)" fill="#a2b1e8" opacity="0.6"/>
<ellipse cx="399.8" cy="375.9" rx="8.5" ry="7" transform="rotate(0 399.8 375.9)" fill="#a2b1e8" opacity="0.6"/>
<ellipse cx="332.7" cy="396.2" rx="8.5" ry="7" transform="rotate(0 332.7 396.2)" fill="#a2b1e8" opacity="0.6"/>
<ellipse cx="342.5" cy="403.5" rx="8.5" ry="7" transform="rotate(0 342.5 403.5)" fill="#a2b1e8" opacity="0.6"/>
<ellipse cx="379.0" cy="399.5" rx="8.5" ry="7" transform="rotate(0 379.0 399.5)" fill="#a2b1e8" opacity="0.6"/>
<ellipse cx="286" cy="386.5" rx="8.5" ry="7" transform="rotate(0 286 386.5)" fill="#a2b1e8" opacity="0.6"/>
<ellipse cx="321" cy="281" rx="10" ry="13" transform="rotate(-10 321 281)" fill="#a2b1e8" opacity="0.6"/>
<ellipse cx="346" cy="285" rx="8" ry="11" transform="rotate(0 346 285)" fill="#a2b1e8" opacity="0.6"/>
<ellipse cx="463" cy="266" rx="10" ry="7" transform="rotate(0 463 266)" fill="#a2b1e8" opacity="0.6"/>
<ellipse cx="446" cy="318" rx="13" ry="8" transform="rotate(-10 446 318)" fill="#a2b1e8" opacity="0.6"/>
<ellipse cx="318" cy="347" rx="15" ry="12" transform="rotate(-10 318 347)" fill="#eef0f6" opacity="0.85"/>
<ellipse cx="300" cy="285" rx="14" ry="22" transform="rotate(0 300 285)" fill="#eef0f6" opacity="0.85"/>
<ellipse cx="432" cy="301" rx="12" ry="12" transform="rotate(0 432 301)" fill="#eef0f6" opacity="0.85"/>
<ellipse cx="294" cy="366" rx="8" ry="9" transform="rotate(0 294 366)" fill="#eef0f6" opacity="0.85"/>
<ellipse cx="347" cy="348" rx="7" ry="5" transform="rotate(0 347 348)" fill="#eef0f6" opacity="0.85"/>
<ellipse cx="293" cy="308" rx="9" ry="5" transform="rotate(0 293 308)" fill="#eef0f6" opacity="0.85"/>
<ellipse cx="331" cy="304" rx="8" ry="4" transform="rotate(25 331 304)" fill="#eef0f6" opacity="0.85"/>
<ellipse cx="366" cy="359" rx="8" ry="6" transform="rotate(0 366 359)" fill="#eef0f6" opacity="0.85"/>
<ellipse cx="400" cy="322" rx="5" ry="8" transform="rotate(0 400 322)" fill="#eef0f6" opacity="0.85"/>
<ellipse cx="356" cy="268" rx="5" ry="9" transform="rotate(0 356 268)" fill="#eef0f6" opacity="0.85"/>
</g>
<rect x="285.1" y="258.9" width="188.5" height="146.10000000000002" fill="#fff" filter="url(#celltex)" opacity="0.55"/>
<g stroke="#f2f4fa" stroke-width="1.6" fill="none" opacity="0.8" filter="url(#cb1)" stroke-linecap="round"><path d="M347 354 L370 329"/><path d="M326 375 L339 391"/><path d="M388 297 L402 304"/><path d="M303 330 Q315 322 330 331"/><path d="M356 300 L372 292"/><path d="M392 345 L410 356"/><path d="M300 392 L318 398"/><path d="M360 380 L380 370"/></g>
<g filter="url(#cb1)">
<ellipse cx="317.7" cy="278" rx="4.4" ry="5.3" transform="rotate(0 317.7 278)" fill="#5a62c8"/>
<ellipse cx="326" cy="283" rx="3.7" ry="4.8" transform="rotate(0 326 283)" fill="#4f58c2"/>
<ellipse cx="345.5" cy="280.2" rx="4.1" ry="4.1" transform="rotate(0 345.5 280.2)" fill="#717bd0"/>
<ellipse cx="345.5" cy="289.9" rx="4.4" ry="3.4" transform="rotate(0 345.5 289.9)" fill="#6670cc"/>
<ellipse cx="365.4" cy="272.4" rx="4.1" ry="4.6" transform="rotate(0 365.4 272.4)" fill="#5e66ca"/>
<ellipse cx="376.5" cy="274.1" rx="4.1" ry="4.8" transform="rotate(0 376.5 274.1)" fill="#5a62c8"/>
<ellipse cx="376.5" cy="283" rx="4.1" ry="4.6" transform="rotate(0 376.5 283)" fill="#4f58c2"/>
<ellipse cx="396" cy="265" rx="4.4" ry="4.4" transform="rotate(0 396 265)" fill="#717bd0"/>
<ellipse cx="398.7" cy="278.8" rx="4.4" ry="3.9" transform="rotate(0 398.7 278.8)" fill="#6670cc"/>
<ellipse cx="419.5" cy="276.9" rx="4.1" ry="3.9" transform="rotate(0 419.5 276.9)" fill="#5e66ca"/>
<ellipse cx="445.3" cy="283.5" rx="4.6" ry="5.1" transform="rotate(0 445.3 283.5)" fill="#5a62c8"/>
<ellipse cx="411.2" cy="287.1" rx="4.6" ry="3.9" transform="rotate(0 411.2 287.1)" fill="#4f58c2"/>
<ellipse cx="390.4" cy="288" rx="4.4" ry="3.9" transform="rotate(0 390.4 288)" fill="#717bd0"/>
<ellipse cx="373.8" cy="260.5" rx="4.1" ry="3.4" transform="rotate(0 373.8 260.5)" fill="#6670cc"/>
<ellipse cx="364.1" cy="295.4" rx="4.6" ry="4.6" transform="rotate(0 364.1 295.4)" fill="#5e66ca"/>
<ellipse cx="397.3" cy="302.4" rx="4.1" ry="4.6" transform="rotate(0 397.3 302.4)" fill="#5a62c8"/>
<ellipse cx="403.7" cy="307.9" rx="3.9" ry="3.9" transform="rotate(0 403.7 307.9)" fill="#4f58c2"/>
<ellipse cx="412" cy="310.1" rx="3.9" ry="4.8" transform="rotate(0 412 310.1)" fill="#717bd0"/>
<ellipse cx="389.9" cy="299.6" rx="3.9" ry="3.9" transform="rotate(0 389.9 299.6)" fill="#6670cc"/>
<ellipse cx="325.2" cy="307.4" rx="3.9" ry="4.1" transform="rotate(0 325.2 307.4)" fill="#5e66ca"/>
<ellipse cx="332.7" cy="308.5" rx="3.4" ry="4.1" transform="rotate(0 332.7 308.5)" fill="#5a62c8"/>
<ellipse cx="351.6" cy="310.7" rx="3.9" ry="3.9" transform="rotate(0 351.6 310.7)" fill="#4f58c2"/>
<ellipse cx="342.7" cy="316.8" rx="4.4" ry="4.4" transform="rotate(0 342.7 316.8)" fill="#717bd0"/>
<ellipse cx="348.2" cy="324.6" rx="3.9" ry="4.6" transform="rotate(0 348.2 324.6)" fill="#6670cc"/>
<ellipse cx="359.3" cy="322.4" rx="3.9" ry="4.6" transform="rotate(0 359.3 322.4)" fill="#5e66ca"/>
<ellipse cx="376.5" cy="307.9" rx="3.9" ry="4.6" transform="rotate(0 376.5 307.9)" fill="#5a62c8"/>
<ellipse cx="376.5" cy="320.4" rx="3.7" ry="4.6" transform="rotate(0 376.5 320.4)" fill="#4f58c2"/>
<ellipse cx="396" cy="323.2" rx="4.1" ry="3.9" transform="rotate(0 396 323.2)" fill="#717bd0"/>
<ellipse cx="411.2" cy="324.6" rx="4.1" ry="4.4" transform="rotate(0 411.2 324.6)" fill="#6670cc"/>
<ellipse cx="428.7" cy="320.4" rx="3.4" ry="4.6" transform="rotate(0 428.7 320.4)" fill="#5e66ca"/>
<ellipse cx="448.7" cy="318.5" rx="4.6" ry="3.9" transform="rotate(0 448.7 318.5)" fill="#5a62c8"/>
<ellipse cx="289.5" cy="326.8" rx="4.6" ry="4.6" transform="rotate(0 289.5 326.8)" fill="#4f58c2"/>
<ellipse cx="311.4" cy="324.6" rx="4.6" ry="4.1" transform="rotate(0 311.4 324.6)" fill="#717bd0"/>
<ellipse cx="296.1" cy="344" rx="4.1" ry="4.6" transform="rotate(0 296.1 344)" fill="#6670cc"/>
<ellipse cx="320.5" cy="335.7" rx="3.9" ry="4.8" transform="rotate(0 320.5 335.7)" fill="#5e66ca"/>
<ellipse cx="340.5" cy="354.5" rx="4.6" ry="5.1" transform="rotate(-20 340.5 354.5)" fill="#5a62c8"/>
<ellipse cx="359.9" cy="347.3" rx="4.1" ry="4.1" transform="rotate(0 359.9 347.3)" fill="#4f58c2"/>
<ellipse cx="373.8" cy="342.6" rx="4.6" ry="4.4" transform="rotate(0 373.8 342.6)" fill="#717bd0"/>
<ellipse cx="382.6" cy="332.8" rx="4.6" ry="3.9" transform="rotate(0 382.6 332.8)" fill="#6670cc"/>
<ellipse cx="398.7" cy="337.1" rx="4.6" ry="4.8" transform="rotate(0 398.7 337.1)" fill="#5e66ca"/>
<ellipse cx="385.4" cy="347.2" rx="4.8" ry="4.4" transform="rotate(0 385.4 347.2)" fill="#5a62c8"/>
<ellipse cx="398.7" cy="352.3" rx="4.4" ry="4.4" transform="rotate(0 398.7 352.3)" fill="#4f58c2"/>
<ellipse cx="384.2" cy="361.8" rx="4.8" ry="4.1" transform="rotate(-20 384.2 361.8)" fill="#717bd0"/>
<ellipse cx="398.7" cy="365.2" rx="4.8" ry="4.4" transform="rotate(0 398.7 365.2)" fill="#6670cc"/>
<ellipse cx="420.1" cy="364" rx="3.9" ry="5.1" transform="rotate(0 420.1 364)" fill="#5e66ca"/>
<ellipse cx="317.7" cy="363.4" rx="5.3" ry="3.2" transform="rotate(-5 317.7 363.4)" fill="#5a62c8"/>
<ellipse cx="351.6" cy="366.2" rx="4.4" ry="4.8" transform="rotate(0 351.6 366.2)" fill="#4f58c2"/>
<ellipse cx="373.2" cy="361.2" rx="3.9" ry="3.9" transform="rotate(0 373.2 361.2)" fill="#717bd0"/>
<ellipse cx="313.6" cy="374" rx="4.4" ry="3.9" transform="rotate(0 313.6 374)" fill="#6670cc"/>
<ellipse cx="331.5" cy="377.3" rx="6.0" ry="4.8" transform="rotate(0 331.5 377.3)" fill="#5e66ca"/>
<ellipse cx="287.2" cy="380.5" rx="3.9" ry="4.8" transform="rotate(0 287.2 380.5)" fill="#5a62c8"/>
<ellipse cx="309.4" cy="384.2" rx="4.4" ry="4.8" transform="rotate(0 309.4 384.2)" fill="#4f58c2"/>
<ellipse cx="353" cy="389.3" rx="4.4" ry="4.8" transform="rotate(0 353 389.3)" fill="#717bd0"/>
<ellipse cx="371" cy="383.4" rx="3.9" ry="4.8" transform="rotate(0 371 383.4)" fill="#6670cc"/>
<ellipse cx="381.5" cy="375.9" rx="4.4" ry="3.9" transform="rotate(0 381.5 375.9)" fill="#5e66ca"/>
<ellipse cx="399.8" cy="375.9" rx="4.4" ry="3.9" transform="rotate(0 399.8 375.9)" fill="#5a62c8"/>
<ellipse cx="332.7" cy="396.2" rx="3.9" ry="3.9" transform="rotate(0 332.7 396.2)" fill="#4f58c2"/>
<ellipse cx="342.5" cy="403.5" rx="4.4" ry="3.4" transform="rotate(0 342.5 403.5)" fill="#717bd0"/>
<ellipse cx="379.0" cy="399.5" rx="3.4" ry="3.4" transform="rotate(0 379.0 399.5)" fill="#6670cc"/>
<ellipse cx="286" cy="386.5" rx="2.3" ry="3.4" transform="rotate(0 286 386.5)" fill="#5e66ca"/>
</g>
</g>
<g filter="url(#cb1)" clip-path="url(#ci1)">
<ellipse cx="46" cy="259.6" rx="1.8" ry="1.4" fill="#9a3aa8" opacity="0.85"/>
<ellipse cx="50.5" cy="260.5" rx="2.6" ry="1.6" fill="#a03ca8" opacity="0.85"/>
<ellipse cx="54.5" cy="261.5" rx="2.2" ry="2.2" fill="#7a3cb0" opacity="0.85"/>
<ellipse cx="54" cy="263.8" rx="1.2" ry="1" fill="#b03890" opacity="0.8"/>
<ellipse cx="58.4" cy="262.9" rx="1.1" ry="1.1" fill="#9a40b0" opacity="0.8"/>
<ellipse cx="68.7" cy="264.5" rx="3" ry="2.5" fill="#5a2a7a" opacity="0.8"/>
<path d="M181.5 286 L186 285 L189 287.5 L187.5 291 L184 292.5 L181 290.5 Z" fill="#3a1f5a" opacity="0.9"/>
<path d="M188 284 Q191 279 194 281 T198 276 M192 283 L196 286" stroke="#b05a9c" stroke-width="0.9" fill="none" opacity="0.8"/>
<ellipse cx="183.5" cy="268.4" rx="1.5" ry="1.2" fill="#9a3a7a" opacity="0.8"/>
<ellipse cx="195.2" cy="278.8" rx="2.5" ry="1.5" fill="#b07ab0" opacity="0.7"/>
</g>
<text x="178.6" y="396.3" text-anchor="middle" font-family="'Liberation Sans', Arial, sans-serif" font-size="4.8" fill="#222">400 um</text>
<line x1="156.4" y1="400.3" x2="194.6" y2="400.3" stroke="#777" stroke-width="0.6"/>
<path d="M156.4 399.3V400.3M166 399.3V400.3M175.5 399.3V400.3M185 399.3V400.3M194.6 399.3V400.3" stroke="#777" stroke-width="0.5"/>
<line x1="156.4" y1="398.6" x2="164.7" y2="398.6" stroke="#c8f0b0" stroke-width="1.4"/>
<text x="431" y="394.0" text-anchor="middle" font-family="'Liberation Sans', Arial, sans-serif" font-size="4.6" fill="#222">400 um</text>
<line x1="408.1" y1="397.6" x2="447" y2="397.6" stroke="#777" stroke-width="0.6"/>
<path d="M408.1 396.6V397.6M415.9 396.6V397.6M423.7 396.6V397.6M431.5 396.6V397.6M439.2 396.6V397.6M447 396.6V397.6" stroke="#777" stroke-width="0.5"/>
<line x1="408.1" y1="395.0" x2="416.4" y2="395.0" stroke="#c8f0b0" stroke-width="1.4"/>
<text x="522.4" y="434.2" font-family="'Liberation Sans', Arial, sans-serif" font-weight="bold" stroke="#000" stroke-width="0.28" font-size="12.5">D</text>
<path d="M572.7 458.1 V606.1 H682.8" fill="none" stroke="#111" stroke-width="1.4"/>
<line x1="566" y1="606.10" x2="572.7" y2="606.10" stroke="#111" stroke-width="1.4"/>
<text x="563.2" y="609.70" text-anchor="end" font-family="'Liberation Sans', Arial, sans-serif" font-weight="bold" stroke="#000" stroke-width="0.28" font-size="10.2" textLength="6.9" lengthAdjust="spacingAndGlyphs">0</text>
<line x1="566" y1="569.10" x2="572.7" y2="569.10" stroke="#111" stroke-width="1.4"/>
<text x="563.2" y="572.70" text-anchor="end" font-family="'Liberation Sans', Arial, sans-serif" font-weight="bold" stroke="#000" stroke-width="0.28" font-size="10.2" textLength="13.8" lengthAdjust="spacingAndGlyphs">20</text>
<line x1="566" y1="532.10" x2="572.7" y2="532.10" stroke="#111" stroke-width="1.4"/>
<text x="563.2" y="535.70" text-anchor="end" font-family="'Liberation Sans', Arial, sans-serif" font-weight="bold" stroke="#000" stroke-width="0.28" font-size="10.2" textLength="13.8" lengthAdjust="spacingAndGlyphs">40</text>
<line x1="566" y1="495.10" x2="572.7" y2="495.10" stroke="#111" stroke-width="1.4"/>
<text x="563.2" y="498.70" text-anchor="end" font-family="'Liberation Sans', Arial, sans-serif" font-weight="bold" stroke="#000" stroke-width="0.28" font-size="10.2" textLength="13.8" lengthAdjust="spacingAndGlyphs">60</text>
<line x1="566" y1="458.10" x2="572.7" y2="458.10" stroke="#111" stroke-width="1.4"/>
<text x="563.2" y="461.70" text-anchor="end" font-family="'Liberation Sans', Arial, sans-serif" font-weight="bold" stroke="#000" stroke-width="0.28" font-size="10.2" textLength="13.8" lengthAdjust="spacingAndGlyphs">80</text>
<line x1="605.8" y1="606.1" x2="605.8" y2="611.9" stroke="#111" stroke-width="1.4"/>
<line x1="655.8" y1="606.1" x2="655.8" y2="611.9" stroke="#111" stroke-width="1.4"/>
<text x="606" y="624.3" text-anchor="middle" font-family="'Liberation Sans', Arial, sans-serif" font-weight="bold" stroke="#000" stroke-width="0.28" font-size="8.6" textLength="21.9" lengthAdjust="spacingAndGlyphs">C2C12</text>
<text x="606.3" y="634.3" text-anchor="middle" font-family="'Liberation Sans', Arial, sans-serif" font-weight="bold" stroke="#000" stroke-width="0.28" font-size="8.4" textLength="10.6" lengthAdjust="spacingAndGlyphs">Wt</text>
<text x="655.9" y="624.3" text-anchor="middle" font-family="'Liberation Sans', Arial, sans-serif" font-weight="bold" stroke="#000" stroke-width="0.28" font-size="8.6" textLength="21.9" lengthAdjust="spacingAndGlyphs">C2C12</text>
<text x="655.4" y="634.3" text-anchor="middle" font-family="'Liberation Sans', Arial, sans-serif" font-weight="bold" stroke="#000" stroke-width="0.28" font-style="italic" font-size="8.4" textLength="16.4" lengthAdjust="spacingAndGlyphs">H19-</text>
<text transform="translate(532.7 527.4) rotate(-90)" text-anchor="middle" font-family="'Liberation Sans', Arial, sans-serif" font-weight="bold" stroke="#000" stroke-width="0.28" font-size="10" textLength="121" lengthAdjust="spacingAndGlyphs">Morphological pattern&#160; (%)</text>
<g stroke="#000" fill="#fff" stroke-width="1.5">
<rect x="590.6" y="498.6" width="31.3" height="5.4"/>
<line x1="598.2" y1="497.6" x2="614.3" y2="497.6" stroke-width="1.8"/>
<line x1="606.2" y1="504.3" x2="606.2" y2="507.2"/>
<line x1="598.2" y1="507.2" x2="614.3" y2="507.2"/>
</g>
<g stroke="#a4a4a4" fill="#fff" stroke-width="1.4">
<line x1="655.8" y1="505.7" x2="655.8" y2="527.8"/>
<rect x="640.3" y="511.2" width="31" height="11"/>
<line x1="640.3" y1="519" x2="671.3" y2="519"/>
<line x1="648.2" y1="505.7" x2="663.9" y2="505.7"/>
<line x1="648.2" y1="527.8" x2="663.9" y2="527.8"/>
</g>
<text x="654.5" y="503.1" text-anchor="middle" font-family="'Liberation Sans', Arial, sans-serif" font-weight="bold" stroke="#000" stroke-width="0.28" font-size="12.5">*</text>
<defs>
<filter id="b1" x="-50%" y="-50%" width="200%" height="200%"><feGaussianBlur stdDeviation="0.7"/></filter>
<filter id="b2" x="-50%" y="-50%" width="200%" height="200%"><feGaussianBlur stdDeviation="2"/></filter>
<filter id="b3" x="-50%" y="-50%" width="200%" height="200%"><feGaussianBlur stdDeviation="3"/></filter>
<filter id="b4" x="-50%" y="-50%" width="200%" height="200%"><feGaussianBlur stdDeviation="4"/></filter>
<filter id="b5" x="-50%" y="-50%" width="200%" height="200%"><feGaussianBlur stdDeviation="5"/></filter>
<filter id="b6" x="-50%" y="-50%" width="200%" height="200%"><feGaussianBlur stdDeviation="6"/></filter>
<filter id="b8" x="-50%" y="-50%" width="200%" height="200%"><feGaussianBlur stdDeviation="8"/></filter>
<filter id="texDL" x="0" y="0" width="100%" height="100%"><feTurbulence type="fractalNoise" baseFrequency="0.07" numOctaves="2" seed="3"/><feGaussianBlur stdDeviation="1.2"/><feColorMatrix type="matrix" values="0 0 0 0 0  0 0 0 0 0  0 0 0 0 0  1.6 0 0 0 -0.72"/></filter>
<filter id="texLL" x="0" y="0" width="100%" height="100%"><feTurbulence type="fractalNoise" baseFrequency="0.07" numOctaves="2" seed="53"/><feGaussianBlur stdDeviation="1.2"/><feColorMatrix type="matrix" values="0 0 0 0 1  0 0 0 0 1  0 0 0 0 1  1.6 0 0 0 -0.72"/></filter>
<filter id="texDR" x="0" y="0" width="100%" height="100%"><feTurbulence type="fractalNoise" baseFrequency="0.07" numOctaves="2" seed="11"/><feGaussianBlur stdDeviation="1.2"/><feColorMatrix type="matrix" values="0 0 0 0 0  0 0 0 0 0  0 0 0 0 0  1.6 0 0 0 -0.72"/></filter>
<filter id="texLR" x="0" y="0" width="100%" height="100%"><feTurbulence type="fractalNoise" baseFrequency="0.07" numOctaves="2" seed="61"/><feGaussianBlur stdDeviation="1.2"/><feColorMatrix type="matrix" values="0 0 0 0 1  0 0 0 0 1  0 0 0 0 1  1.6 0 0 0 -0.72"/></filter>
</defs>
<mask id="maskL" maskUnits="userSpaceOnUse" x="43.5" y="429.2" width="187.0" height="176.3"><path d="M61.5 583.0 C61.2 580.2 61.9 573.5 62.5 569.0 C63.1 564.5 63.6 560.8 65.0 556.0 C66.4 551.2 69.0 545.0 71.0 540.0 C73.0 535.0 75.1 530.6 77.3 526.0 C79.5 521.4 82.1 516.7 84.0 512.6 C85.9 508.5 87.0 504.8 88.5 501.4 C90.0 498.0 91.5 495.0 93.0 492.0 C94.5 489.0 95.3 486.8 97.5 483.5 C99.7 480.2 102.7 475.8 106.4 472.3 C110.1 468.8 115.7 464.9 119.8 462.3 C123.9 459.7 127.2 458.3 131.0 456.7 C134.8 455.1 137.8 453.5 142.6 452.5 C147.4 451.5 154.8 451.6 159.7 450.7 C164.6 449.8 168.9 447.1 172.0 447.2 C175.1 447.2 176.7 449.4 178.5 451.0 C180.3 452.6 181.2 455.2 183.0 456.5 C184.8 457.8 186.7 458.4 189.0 459.0 C191.3 459.6 194.8 460.2 197.0 460.0 C199.2 459.8 200.6 458.4 202.0 457.5 C203.4 456.6 204.8 454.4 205.5 454.3 C206.2 454.2 206.6 455.7 206.5 457.0 C206.4 458.3 205.1 460.1 204.8 462.0 C204.6 463.9 205.8 466.9 205.0 468.5 C204.2 470.1 202.3 471.2 200.0 471.8 C197.7 472.4 193.3 471.6 191.0 472.3 C188.7 473.0 186.4 474.6 186.2 476.0 C185.9 477.4 187.5 479.5 189.5 480.5 C191.5 481.5 195.3 481.3 198.0 482.0 C200.7 482.7 203.9 483.0 205.5 484.5 C207.1 486.0 207.4 487.9 207.8 491.0 C208.2 494.1 207.7 498.5 208.2 503.4 C208.7 508.3 210.3 514.8 211.0 520.5 C211.7 526.2 212.2 531.9 212.5 537.6 C212.8 543.3 213.2 550.9 212.5 554.7 C211.8 558.5 210.3 558.5 208.2 560.4 C206.0 562.3 202.9 564.6 199.6 566.0 C196.3 567.4 192.0 567.5 188.2 569.0 C184.4 570.5 180.6 573.3 176.8 574.7 C173.0 576.1 170.2 576.1 165.4 577.5 C160.7 578.9 155.0 581.8 148.3 583.2 C141.7 584.6 134.1 585.3 125.5 586.0 C117.0 586.7 105.5 587.2 97.0 587.5 C88.5 587.8 79.7 587.8 74.2 587.5 C68.7 587.2 66.3 586.8 64.2 586.0 C62.1 585.2 61.8 585.8 61.5 583.0 Z" fill="#fff" filter="url(#b1)"/></mask>
<g mask="url(#maskL)">
<rect x="53.5" y="439.2" width="167.0" height="156.3" fill="#e5e5e5"/>
<ellipse cx="146" cy="494" rx="44" ry="30" transform="rotate(0 146 494)" fill="#cbcbcb" opacity="1" filter="url(#b6)"/>
<ellipse cx="124" cy="546" rx="64" ry="40" transform="rotate(-15 124 546)" fill="#ababab" opacity="1" filter="url(#b6)"/>
<ellipse cx="102" cy="575" rx="38" ry="11" transform="rotate(-5 102 575)" fill="#888888" opacity="1" filter="url(#b5)"/>
<ellipse cx="76" cy="562" rx="13" ry="20" transform="rotate(10 76 562)" fill="#aaaaaa" opacity="1" filter="url(#b5)"/>
<ellipse cx="104" cy="528" rx="26" ry="14" transform="rotate(-25 104 528)" fill="#a8a8a8" opacity="1" filter="url(#b6)"/>
<ellipse cx="123" cy="548" rx="48" ry="25" transform="rotate(-18 123 548)" fill="#7a7a7a" opacity="1" filter="url(#b5)"/>
<rect x="53.5" y="439.2" width="167.0" height="156.3" fill="#000" filter="url(#texDL)" opacity="0.26"/>
<rect x="53.5" y="439.2" width="167.0" height="156.3" fill="#000" filter="url(#texLL)" opacity="0.26"/>
<ellipse cx="119" cy="550" rx="38" ry="18" transform="rotate(-16 119 550)" fill="#4a4a4a" opacity="0.9" filter="url(#b5)"/>
<ellipse cx="100" cy="554" rx="14" ry="10" transform="rotate(0 100 554)" fill="#5a5a5a" opacity="0.8" filter="url(#b4)"/>
<ellipse cx="113" cy="552" rx="23" ry="11" transform="rotate(-12 113 552)" fill="#121212" opacity="1" filter="url(#b4)"/>
</g>
<polygon points="131.8,511.4 120.4,514.0 112.6,518.4 102.0,522.8 92.4,528.0 86.3,535.9 83.7,545.5 84.5,556.1 86.3,562.2 91.5,568.3 103.8,571.8 116.1,571.0 126.6,566.6 137.1,560.4 147.6,554.3 159.9,548.2 166.9,542.0 169.5,539.4 170.7,529.8 165.1,523.7 158.1,520.1 142.3,514.9" fill="none" stroke="#000" stroke-width="0.9" stroke-linejoin="round"/>
<mask id="maskR" maskUnits="userSpaceOnUse" x="291.5" y="430.8" width="200.10000000000002" height="179.2"><path d="M309.5 583.8 C309.4 585.7 308.2 586.8 311.9 587.9 C315.6 589.0 326.1 589.5 331.7 590.2 C337.3 590.9 339.5 592.4 345.7 592.0 C351.9 591.6 360.8 589.4 368.9 588.1 C377.0 586.8 385.9 585.5 394.4 584.2 C402.9 582.9 411.9 581.7 420.0 580.4 C428.1 579.1 435.8 578.3 443.0 576.6 C450.2 574.9 458.7 573.4 463.4 570.2 C468.1 567.0 469.4 562.9 471.1 557.4 C472.8 551.9 473.2 543.8 473.6 537.0 C474.0 530.2 473.8 523.3 473.6 516.5 C473.4 509.7 472.7 502.9 472.3 496.1 C471.9 489.3 471.7 481.7 471.1 475.7 C470.5 469.7 470.2 464.4 468.5 460.3 C466.8 456.2 464.7 453.3 460.9 451.4 C457.1 449.5 451.5 448.8 445.5 448.8 C439.5 448.8 431.5 450.8 425.1 451.4 C418.7 452.0 412.4 452.1 407.2 452.7 C401.9 453.3 397.9 454.1 393.6 454.8 C389.3 455.6 385.4 455.6 381.3 457.2 C377.2 458.8 372.7 461.7 369.0 464.6 C365.3 467.5 361.8 470.8 359.1 474.5 C356.4 478.2 355.2 483.1 353.0 486.8 C350.8 490.6 347.6 493.3 346.0 497.0 C344.4 500.7 344.6 503.7 343.1 509.0 C341.6 514.3 338.9 522.1 337.0 528.7 C335.1 535.3 334.3 541.9 332.0 548.4 C329.7 554.9 326.7 563.3 323.4 568.0 C320.1 572.7 314.6 574.1 312.3 576.7 C310.0 579.3 309.6 581.9 309.5 583.8 Z" fill="#fff" filter="url(#b1)"/></mask>
<g mask="url(#maskR)">
<rect x="301.5" y="440.8" width="180.10000000000002" height="159.2" fill="#e5e5e5"/>
<ellipse cx="412" cy="496" rx="54" ry="36" transform="rotate(0 412 496)" fill="#b9b9b9" opacity="1" filter="url(#b6)"/>
<ellipse cx="364" cy="505" rx="16" ry="26" transform="rotate(15 364 505)" fill="#bdbdbd" opacity="1" filter="url(#b6)"/>
<ellipse cx="450" cy="548" rx="26" ry="28" transform="rotate(0 450 548)" fill="#a6a6a6" opacity="1" filter="url(#b6)"/>
<ellipse cx="392" cy="560" rx="70" ry="34" transform="rotate(-12 392 560)" fill="#8c8c8c" opacity="1" filter="url(#b6)"/>
<ellipse cx="444" cy="554" rx="24" ry="18" transform="rotate(0 444 554)" fill="#888888" opacity="1" filter="url(#b6)"/>
<ellipse cx="342" cy="582" rx="30" ry="9" transform="rotate(-5 342 582)" fill="#8a8a8a" opacity="1" filter="url(#b5)"/>
<ellipse cx="362" cy="578" rx="30" ry="8" transform="rotate(-10 362 578)" fill="#6c6c6c" opacity="1" filter="url(#b4)"/>
<rect x="301.5" y="440.8" width="180.10000000000002" height="159.2" fill="#000" filter="url(#texDR)" opacity="0.26"/>
<rect x="301.5" y="440.8" width="180.10000000000002" height="159.2" fill="#000" filter="url(#texLR)" opacity="0.26"/>
<ellipse cx="380" cy="558" rx="46" ry="22" transform="rotate(-15 380 558)" fill="#4c4c4c" opacity="0.9" filter="url(#b5)"/>
<ellipse cx="374" cy="558" rx="28" ry="13" transform="rotate(-15 374 558)" fill="#161616" opacity="1" filter="url(#b4)"/>
</g>
<polygon points="385.4,515.4 372.8,518.5 362.4,523.9 341.9,532.8 334.0,542.2 332.4,553.3 334.9,567.5 341.9,574.4 356.1,577.0 368.7,575.4 382.9,569.1 394.0,563.7 414.5,553.3 424.0,547.0 427.8,540.7 428.7,532.8 420.8,526.4 405.0,520.1 394.0,516.3" fill="none" stroke="#000" stroke-width="0.9" stroke-linejoin="round"/>
<rect x="43.8" y="439.6" width="176.89999999999998" height="173.89999999999998" fill="none" stroke="#b8b8b8" stroke-width="0.8"/>
<path d="M43.8 439.6 V613.5 H220.7" fill="none" stroke="#808080" stroke-width="0.9"/>
<line x1="41.00" y1="613.50" x2="43.8" y2="613.50" stroke="#777" stroke-width="0.8"/>
<line x1="42.00" y1="605.00" x2="43.8" y2="605.00" stroke="#777" stroke-width="0.8"/>
<line x1="42.00" y1="596.51" x2="43.8" y2="596.51" stroke="#777" stroke-width="0.8"/>
<line x1="42.00" y1="588.01" x2="43.8" y2="588.01" stroke="#777" stroke-width="0.8"/>
<line x1="41.00" y1="579.52" x2="43.8" y2="579.52" stroke="#777" stroke-width="0.8"/>
<line x1="42.00" y1="571.02" x2="43.8" y2="571.02" stroke="#777" stroke-width="0.8"/>
<line x1="42.00" y1="562.53" x2="43.8" y2="562.53" stroke="#777" stroke-width="0.8"/>
<line x1="42.00" y1="554.03" x2="43.8" y2="554.03" stroke="#777" stroke-width="0.8"/>
<line x1="41.00" y1="545.54" x2="43.8" y2="545.54" stroke="#777" stroke-width="0.8"/>
<line x1="42.00" y1="537.05" x2="43.8" y2="537.05" stroke="#777" stroke-width="0.8"/>
<line x1="42.00" y1="528.55" x2="43.8" y2="528.55" stroke="#777" stroke-width="0.8"/>
<line x1="42.00" y1="520.06" x2="43.8" y2="520.06" stroke="#777" stroke-width="0.8"/>
<line x1="41.00" y1="511.56" x2="43.8" y2="511.56" stroke="#777" stroke-width="0.8"/>
<line x1="42.00" y1="503.06" x2="43.8" y2="503.06" stroke="#777" stroke-width="0.8"/>
<line x1="42.00" y1="494.57" x2="43.8" y2="494.57" stroke="#777" stroke-width="0.8"/>
<line x1="42.00" y1="486.08" x2="43.8" y2="486.08" stroke="#777" stroke-width="0.8"/>
<line x1="41.00" y1="477.58" x2="43.8" y2="477.58" stroke="#777" stroke-width="0.8"/>
<line x1="42.00" y1="469.09" x2="43.8" y2="469.09" stroke="#777" stroke-width="0.8"/>
<line x1="42.00" y1="460.59" x2="43.8" y2="460.59" stroke="#777" stroke-width="0.8"/>
<line x1="42.00" y1="452.10" x2="43.8" y2="452.10" stroke="#777" stroke-width="0.8"/>
<line x1="41.00" y1="443.60" x2="43.8" y2="443.60" stroke="#777" stroke-width="0.8"/>
<text x="37.4" y="614.40" text-anchor="end" font-family="'DejaVu Sans', Verdana, sans-serif" font-size="5.9" fill="#333" stroke="#333" stroke-width="0.12">0</text>
<text x="37.4" y="580.42" text-anchor="end" font-family="'DejaVu Sans', Verdana, sans-serif" font-size="5.9" fill="#333" stroke="#333" stroke-width="0.12">200</text>
<text x="37.4" y="546.44" text-anchor="end" font-family="'DejaVu Sans', Verdana, sans-serif" font-size="5.9" fill="#333" stroke="#333" stroke-width="0.12">400</text>
<text x="37.4" y="512.46" text-anchor="end" font-family="'DejaVu Sans', Verdana, sans-serif" font-size="5.9" fill="#333" stroke="#333" stroke-width="0.12">600</text>
<text x="37.4" y="478.48" text-anchor="end" font-family="'DejaVu Sans', Verdana, sans-serif" font-size="5.9" fill="#333" stroke="#333" stroke-width="0.12">800</text>
<text x="37.4" y="444.50" text-anchor="end" font-family="'DejaVu Sans', Verdana, sans-serif" font-size="5.9" fill="#333" stroke="#333" stroke-width="0.12">1,0K</text>
<line x1="43.90" y1="613.5" x2="43.90" y2="616.10" stroke="#777" stroke-width="0.8"/>
<line x1="52.58" y1="613.5" x2="52.58" y2="615.10" stroke="#777" stroke-width="0.8"/>
<line x1="61.25" y1="613.5" x2="61.25" y2="615.10" stroke="#777" stroke-width="0.8"/>
<line x1="69.92" y1="613.5" x2="69.92" y2="615.10" stroke="#777" stroke-width="0.8"/>
<line x1="78.60" y1="613.5" x2="78.60" y2="616.10" stroke="#777" stroke-width="0.8"/>
<line x1="87.28" y1="613.5" x2="87.28" y2="615.10" stroke="#777" stroke-width="0.8"/>
<line x1="95.95" y1="613.5" x2="95.95" y2="615.10" stroke="#777" stroke-width="0.8"/>
<line x1="104.62" y1="613.5" x2="104.62" y2="615.10" stroke="#777" stroke-width="0.8"/>
<line x1="113.30" y1="613.5" x2="113.30" y2="616.10" stroke="#777" stroke-width="0.8"/>
<line x1="121.97" y1="613.5" x2="121.97" y2="615.10" stroke="#777" stroke-width="0.8"/>
<line x1="130.65" y1="613.5" x2="130.65" y2="615.10" stroke="#777" stroke-width="0.8"/>
<line x1="139.32" y1="613.5" x2="139.32" y2="615.10" stroke="#777" stroke-width="0.8"/>
<line x1="148.00" y1="613.5" x2="148.00" y2="616.10" stroke="#777" stroke-width="0.8"/>
<line x1="156.68" y1="613.5" x2="156.68" y2="615.10" stroke="#777" stroke-width="0.8"/>
<line x1="165.35" y1="613.5" x2="165.35" y2="615.10" stroke="#777" stroke-width="0.8"/>
<line x1="174.03" y1="613.5" x2="174.03" y2="615.10" stroke="#777" stroke-width="0.8"/>
<line x1="182.70" y1="613.5" x2="182.70" y2="616.10" stroke="#777" stroke-width="0.8"/>
<line x1="191.38" y1="613.5" x2="191.38" y2="615.10" stroke="#777" stroke-width="0.8"/>
<line x1="200.05" y1="613.5" x2="200.05" y2="615.10" stroke="#777" stroke-width="0.8"/>
<line x1="208.72" y1="613.5" x2="208.72" y2="615.10" stroke="#777" stroke-width="0.8"/>
<line x1="217.40" y1="613.5" x2="217.40" y2="616.10" stroke="#777" stroke-width="0.8"/>
<text x="43.90" y="623.10" text-anchor="middle" font-family="'DejaVu Sans', Verdana, sans-serif" font-size="5.9" fill="#333" stroke="#333" stroke-width="0.12">0</text>
<text x="78.60" y="623.10" text-anchor="middle" font-family="'DejaVu Sans', Verdana, sans-serif" font-size="5.9" fill="#333" stroke="#333" stroke-width="0.12">200</text>
<text x="113.30" y="623.10" text-anchor="middle" font-family="'DejaVu Sans', Verdana, sans-serif" font-size="5.9" fill="#333" stroke="#333" stroke-width="0.12">400</text>
<text x="148.00" y="623.10" text-anchor="middle" font-family="'DejaVu Sans', Verdana, sans-serif" font-size="5.9" fill="#333" stroke="#333" stroke-width="0.12">600</text>
<text x="182.70" y="623.10" text-anchor="middle" font-family="'DejaVu Sans', Verdana, sans-serif" font-size="5.9" fill="#333" stroke="#333" stroke-width="0.12">800</text>
<text x="217.40" y="623.10" text-anchor="middle" font-family="'DejaVu Sans', Verdana, sans-serif" font-size="5.9" fill="#333" stroke="#333" stroke-width="0.12">1,0K</text>
<rect x="288.3" y="443.5" width="196.2" height="174.89999999999998" fill="none" stroke="#b8b8b8" stroke-width="0.8"/>
<path d="M288.3 443.5 V618.4 H484.5" fill="none" stroke="#808080" stroke-width="0.9"/>
<line x1="285.50" y1="618.40" x2="288.3" y2="618.40" stroke="#777" stroke-width="0.8"/>
<line x1="286.50" y1="609.83" x2="288.3" y2="609.83" stroke="#777" stroke-width="0.8"/>
<line x1="286.50" y1="601.26" x2="288.3" y2="601.26" stroke="#777" stroke-width="0.8"/>
<line x1="286.50" y1="592.69" x2="288.3" y2="592.69" stroke="#777" stroke-width="0.8"/>
<line x1="285.50" y1="584.12" x2="288.3" y2="584.12" stroke="#777" stroke-width="0.8"/>
<line x1="286.50" y1="575.55" x2="288.3" y2="575.55" stroke="#777" stroke-width="0.8"/>
<line x1="286.50" y1="566.98" x2="288.3" y2="566.98" stroke="#777" stroke-width="0.8"/>
<line x1="286.50" y1="558.41" x2="288.3" y2="558.41" stroke="#777" stroke-width="0.8"/>
<line x1="285.50" y1="549.84" x2="288.3" y2="549.84" stroke="#777" stroke-width="0.8"/>
<line x1="286.50" y1="541.27" x2="288.3" y2="541.27" stroke="#777" stroke-width="0.8"/>
<line x1="286.50" y1="532.70" x2="288.3" y2="532.70" stroke="#777" stroke-width="0.8"/>
<line x1="286.50" y1="524.13" x2="288.3" y2="524.13" stroke="#777" stroke-width="0.8"/>
<line x1="285.50" y1="515.56" x2="288.3" y2="515.56" stroke="#777" stroke-width="0.8"/>
<line x1="286.50" y1="506.99" x2="288.3" y2="506.99" stroke="#777" stroke-width="0.8"/>
<line x1="286.50" y1="498.42" x2="288.3" y2="498.42" stroke="#777" stroke-width="0.8"/>
<line x1="286.50" y1="489.85" x2="288.3" y2="489.85" stroke="#777" stroke-width="0.8"/>
<line x1="285.50" y1="481.28" x2="288.3" y2="481.28" stroke="#777" stroke-width="0.8"/>
<line x1="286.50" y1="472.71" x2="288.3" y2="472.71" stroke="#777" stroke-width="0.8"/>
<line x1="286.50" y1="464.14" x2="288.3" y2="464.14" stroke="#777" stroke-width="0.8"/>
<line x1="286.50" y1="455.57" x2="288.3" y2="455.57" stroke="#777" stroke-width="0.8"/>
<line x1="285.50" y1="447.00" x2="288.3" y2="447.00" stroke="#777" stroke-width="0.8"/>
<text x="281.3" y="620.50" text-anchor="end" font-family="'DejaVu Sans', Verdana, sans-serif" font-size="5.9" fill="#333" stroke="#333" stroke-width="0.12">0</text>
<text x="281.3" y="586.22" text-anchor="end" font-family="'DejaVu Sans', Verdana, sans-serif" font-size="5.9" fill="#333" stroke="#333" stroke-width="0.12">200</text>
<text x="281.3" y="551.94" text-anchor="end" font-family="'DejaVu Sans', Verdana, sans-serif" font-size="5.9" fill="#333" stroke="#333" stroke-width="0.12">400</text>
<text x="281.3" y="517.66" text-anchor="end" font-family="'DejaVu Sans', Verdana, sans-serif" font-size="5.9" fill="#333" stroke="#333" stroke-width="0.12">600</text>
<text x="281.3" y="483.38" text-anchor="end" font-family="'DejaVu Sans', Verdana, sans-serif" font-size="5.9" fill="#333" stroke="#333" stroke-width="0.12">800</text>
<text x="281.3" y="449.10" text-anchor="end" font-family="'DejaVu Sans', Verdana, sans-serif" font-size="5.9" fill="#333" stroke="#333" stroke-width="0.12">1,0K</text>
<line x1="288.90" y1="618.4" x2="288.90" y2="621.00" stroke="#777" stroke-width="0.8"/>
<line x1="298.41" y1="618.4" x2="298.41" y2="620.00" stroke="#777" stroke-width="0.8"/>
<line x1="307.92" y1="618.4" x2="307.92" y2="620.00" stroke="#777" stroke-width="0.8"/>
<line x1="317.43" y1="618.4" x2="317.43" y2="620.00" stroke="#777" stroke-width="0.8"/>
<line x1="326.94" y1="618.4" x2="326.94" y2="621.00" stroke="#777" stroke-width="0.8"/>
<line x1="336.45" y1="618.4" x2="336.45" y2="620.00" stroke="#777" stroke-width="0.8"/>
<line x1="345.96" y1="618.4" x2="345.96" y2="620.00" stroke="#777" stroke-width="0.8"/>
<line x1="355.47" y1="618.4" x2="355.47" y2="620.00" stroke="#777" stroke-width="0.8"/>
<line x1="364.98" y1="618.4" x2="364.98" y2="621.00" stroke="#777" stroke-width="0.8"/>
<line x1="374.49" y1="618.4" x2="374.49" y2="620.00" stroke="#777" stroke-width="0.8"/>
<line x1="384.00" y1="618.4" x2="384.00" y2="620.00" stroke="#777" stroke-width="0.8"/>
<line x1="393.51" y1="618.4" x2="393.51" y2="620.00" stroke="#777" stroke-width="0.8"/>
<line x1="403.02" y1="618.4" x2="403.02" y2="621.00" stroke="#777" stroke-width="0.8"/>
<line x1="412.53" y1="618.4" x2="412.53" y2="620.00" stroke="#777" stroke-width="0.8"/>
<line x1="422.04" y1="618.4" x2="422.04" y2="620.00" stroke="#777" stroke-width="0.8"/>
<line x1="431.55" y1="618.4" x2="431.55" y2="620.00" stroke="#777" stroke-width="0.8"/>
<line x1="441.06" y1="618.4" x2="441.06" y2="621.00" stroke="#777" stroke-width="0.8"/>
<line x1="450.57" y1="618.4" x2="450.57" y2="620.00" stroke="#777" stroke-width="0.8"/>
<line x1="460.08" y1="618.4" x2="460.08" y2="620.00" stroke="#777" stroke-width="0.8"/>
<line x1="469.59" y1="618.4" x2="469.59" y2="620.00" stroke="#777" stroke-width="0.8"/>
<line x1="479.10" y1="618.4" x2="479.10" y2="621.00" stroke="#777" stroke-width="0.8"/>
<text x="288.90" y="630.10" text-anchor="middle" font-family="'DejaVu Sans', Verdana, sans-serif" font-size="5.9" fill="#333" stroke="#333" stroke-width="0.12">0</text>
<text x="326.94" y="628.70" text-anchor="middle" font-family="'DejaVu Sans', Verdana, sans-serif" font-size="5.9" fill="#333" stroke="#333" stroke-width="0.12">200</text>
<text x="364.98" y="628.70" text-anchor="middle" font-family="'DejaVu Sans', Verdana, sans-serif" font-size="5.9" fill="#333" stroke="#333" stroke-width="0.12">400</text>
<text x="403.02" y="628.70" text-anchor="middle" font-family="'DejaVu Sans', Verdana, sans-serif" font-size="5.9" fill="#333" stroke="#333" stroke-width="0.12">600</text>
<text x="441.06" y="628.70" text-anchor="middle" font-family="'DejaVu Sans', Verdana, sans-serif" font-size="5.9" fill="#333" stroke="#333" stroke-width="0.12">800</text>
<text x="479.10" y="628.70" text-anchor="middle" font-family="'DejaVu Sans', Verdana, sans-serif" font-size="5.9" fill="#333" stroke="#333" stroke-width="0.12">1,0K</text>
<text x="3.7" y="427.0" font-family="'Liberation Sans', Arial, sans-serif" font-weight="bold" stroke="#000" stroke-width="0.28" font-size="13" textLength="8" lengthAdjust="spacingAndGlyphs">C</text>
<text x="49.6" y="433.2" font-family="'Liberation Sans', Arial, sans-serif" font-weight="bold" stroke="#000" stroke-width="0.28" font-size="7.4" textLength="34.6" lengthAdjust="spacingAndGlyphs">C2C12 Wt</text>
<text x="289.6" y="432.8" font-family="'Liberation Sans', Arial, sans-serif" font-weight="bold" stroke="#000" stroke-width="0.28" font-size="7.4" textLength="41.2" lengthAdjust="spacingAndGlyphs">C2C12 <tspan font-style="italic">H19</tspan>-</text>
<text x="124.9" y="645.9" text-anchor="middle" font-family="'Liberation Sans', Arial, sans-serif" font-weight="bold" stroke="#000" stroke-width="0.28" font-size="8.3" textLength="42.4" lengthAdjust="spacingAndGlyphs">Side Scatter</text>
<text x="384.9" y="646.1" text-anchor="middle" font-family="'Liberation Sans', Arial, sans-serif" font-weight="bold" stroke="#000" stroke-width="0.28" font-size="9.1" textLength="48.4" lengthAdjust="spacingAndGlyphs">Side Scatter</text>
<text transform="translate(10.8 534.7) rotate(-90)" text-anchor="middle" font-family="'Liberation Sans', Arial, sans-serif" font-weight="bold" stroke="#000" stroke-width="0.28" font-size="7.6" textLength="57.3" lengthAdjust="spacingAndGlyphs">Forward Scatter</text>
<text x="61.9" y="503.3" font-family="'DejaVu Sans', Verdana, sans-serif" font-size="8.4" fill="#333" stroke="#333" stroke-width="0.25" textLength="17.3" lengthAdjust="spacingAndGlyphs">57,9</text>
<line x1="68" y1="493.5" x2="72" y2="493.5" stroke="#333" stroke-width="0.8"/>
<text x="309.0" y="507.8" font-family="'DejaVu Sans', Verdana, sans-serif" font-size="8.0" fill="#333" stroke="#333" stroke-width="0.25" textLength="19.0" lengthAdjust="spacingAndGlyphs">47,1</text>
<line x1="314.9" y1="497.3" x2="319.9" y2="497.3" stroke="#333" stroke-width="0.8"/>
</svg></body></html>
